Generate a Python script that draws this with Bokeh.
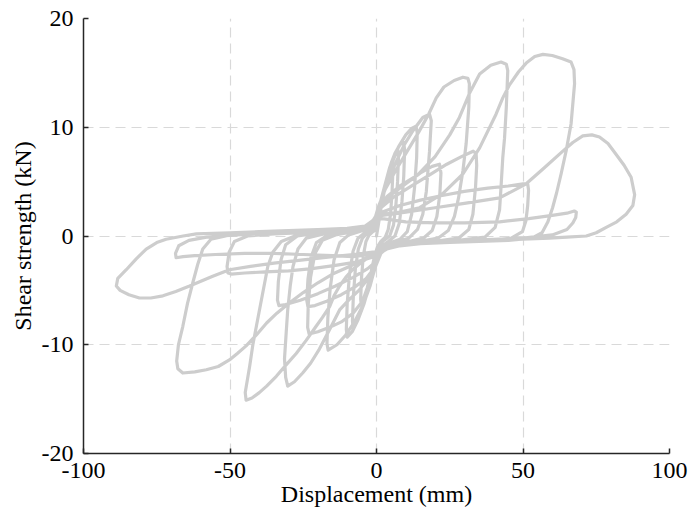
from bokeh.plotting import figure
from bokeh.models import Range1d, FixedTicker, ColumnDataSource
from bokeh.embed import file_html
from bokeh.resources import INLINE

# ---- data (displacement mm, shear kN), cycle by cycle ----
c1_x = [0, 0.5, 1.5, 2.8, 4.0, 5.0, 5.5, 5.6, 5.3, 4.8, 4.0, 3.0, 1.5, 0.3,
        -0.8, -2.0, -3.2, -4.5, -5.2, -5.4, -5.1, -4.5, -3.6, -2.5, -1.2, 0]
c1_y = [0, 0.8, 2.5, 4.3, 5.6, 6.4, 6.6, 6.0, 4.0, 2.0, 0.6, -0.1, -0.5, -1.0,
        -2.0, -3.5, -4.8, -5.8, -6.3, -5.8, -3.8, -1.8, -0.5, 0.1, 0.4, 0.6]

c2_x = [0.8, 2.0, 3.5, 5.0, 6.3, 7.3, 7.5, 7.2, 6.6, 5.8, 4.5, 2.5, 1.0, 0,
        -1.2, -2.6, -4.2, -6.0, -7.3, -8.0, -8.2, -7.9, -7.2, -6.2, -4.8, -3.0, -1.2]
c2_y = [1.6, 3.5, 5.3, 6.7, 7.6, 7.9, 7.2, 5.0, 2.8, 1.0, 0.0, -0.4, -0.8, -1.5,
        -2.8, -4.4, -6.0, -7.4, -8.2, -8.5, -7.8, -5.5, -3.0, -1.2, -0.2, 0.3, 0.5]

c3_x = [0, 1.2, 2.8, 4.5, 6.3, 8.0, 9.3, 9.6, 9.3, 8.7, 7.8, 6.3, 4.0, 2.0, 0.5,
        -0.8, -2.3, -4.2, -6.3, -8.3, -10.0, -10.3, -10.0, -9.2, -8.0, -6.3, -4.0, -1.8]
c3_y = [1.0, 2.6, 4.6, 6.3, 7.6, 8.4, 8.6, 7.9, 5.5, 3.2, 1.2, 0.0, -0.5, -0.9, -1.6,
        -2.8, -4.4, -6.2, -7.7, -8.8, -9.3, -8.6, -6.2, -3.5, -1.4, -0.2, 0.3, 0.6]

c4_x = [-0.3, 1.0, 2.8, 5.0, 7.5, 10.0, 12.0, 13.5, 13.9, 13.7, 13.0, 12.0, 10.5, 8.0, 5.0, 2.5, 0.8,
        -0.6, -2.2, -4.5, -7.5, -10.5, -13.5, -16.5, -16.9, -16.6, -15.8, -14.5, -12.5, -9.5, -6.0, -2.5]
c4_y = [1.2, 2.8, 4.6, 6.5, 8.2, 9.3, 9.9, 10.1, 9.5, 7.2, 4.5, 2.0, 0.4, -0.3, -0.6, -1.0, -1.8,
        -3.0, -4.6, -6.3, -7.9, -9.1, -10.0, -10.5, -9.9, -7.5, -4.8, -2.2, -0.6, 0.1, 0.4, 0.7]

c5_x = [-0.5, 1.2, 3.5, 6.5, 9.5, 12.5, 15.8, 18.1, 18.7, 18.1, 17.0, 15.8, 14.0, 11.0, 7.0, 3.5, 1.2,
        -0.3, -2.0, -4.5, -8.0, -12.0, -16.0, -20.0, -23.0, -23.5, -23.3, -22.5, -21.0, -18.5, -14.0, -8.0, -3.0]
c5_y = [1.5, 3.0, 4.8, 6.7, 8.4, 9.7, 10.9, 11.2, 10.6, 7.8, 4.1, 2.0, 0.6, -0.2, -0.5, -0.9, -1.7,
        -2.8, -4.3, -5.9, -7.1, -7.9, -8.4, -8.8, -9.0, -8.4, -6.3, -3.8, -1.6, -0.4, 0.1, 0.4, 0.8]

c5b_x = [-0.6, 1.5, 5.0, 10.0, 15.0, 19.0, 21.5, 22.0, 21.6, 20.6, 19.0, 16.0, 11.0, 6.0, 2.5, 0.5,
         -1.0, -3.5, -7.5, -12.0, -17.0, -21.0, -23.4, -23.8, -23.4, -22.4, -20.5, -16.5, -10.0, -4.0]
c5b_y = [1.4, 2.6, 3.8, 4.8, 5.8, 6.4, 6.6, 5.8, 3.8, 1.8, 0.5, -0.2, -0.5, -0.7, -1.1, -2.0,
         -3.0, -3.9, -4.7, -5.4, -6.0, -6.4, -6.5, -5.9, -4.0, -2.0, -0.6, 0.1, 0.4, 0.7]

c6_x = [-1.0, 0.8, 3.0, 6.5, 10.5, 14.5, 17.8, 20.4, 23.0, 26.5, 29.5, 31.2,
        31.7, 31.5, 30.6, 29.5, 28.0, 26.6, 24.5, 21.0, 15.0, 9.0, 4.5, 1.5,
        0, -2.5, -6.0, -9.5, -12.6, -16.0, -19.5, -22.5, -25.2, -28.0, -30.3,
        -31.0, -31.4, -30.8, -30.3, -29.4, -28.5, -26.8, -24.0, -18.0, -10.0, -4.0]
c6_y = [1.2, 2.8, 4.3, 6.0, 7.8, 9.6, 11.2, 12.7, 13.7, 14.3, 14.6, 14.5,
        14.0, 11.8, 8.5, 6.0, 3.5, 1.8, 0.5, -0.2, -0.5, -0.6, -0.9, -1.6,
        -2.6, -3.8, -5.0, -5.9, -6.8, -8.6, -10.4, -11.7, -12.6, -13.4, -13.8,
        -13.0, -11.3, -8.8, -6.8, -4.5, -2.8, -1.2, -0.2, 0.2, 0.4, 0.7]

c6b_x = [-1.0, 1.5, 6.0, 12.0, 18.0, 24.0, 29.0, 33.0, 34.0, 34.2, 33.8, 32.9, 31.5, 28.0, 20.0, 12.0, 5.5, 1.8,
         0, -3.0, -8.0, -14.0, -20.0, -26.0, -31.0, -33.3, -33.8, -33.5, -32.6, -31.0, -27.0, -19.0, -10.0, -4.0]
c6b_y = [1.5, 2.6, 3.6, 4.6, 5.6, 6.6, 7.3, 7.8, 7.6, 6.5, 4.5, 2.0, 0.6, -0.2, -0.5, -0.6, -0.8, -1.4,
         -2.3, -3.0, -3.8, -4.6, -5.3, -5.9, -6.3, -6.4, -5.9, -4.2, -2.2, -0.8, 0.0, 0.3, 0.5, 0.8]

c7_x = [-1.0, 0.8, 3.5, 8.0, 14.0, 20.0, 25.0, 28.3, 31.7, 35.2, 39.0, 42.5, 44.3,
        44.8, 44.3, 43.7, 43.1, 42.5, 42.0, 40.5, 37.0, 28.0, 18.0, 10.0, 3.0, 1.0,
        -2.4, -5.5, -8.2, -10.5, -12.6, -14.5, -16.0, -18.5, -20.6, -24.0, -27.4, -31.0, -34.2,
        -37.5, -40.0, -42.5, -44.5, -44.8, -43.3, -42.2, -41.0, -38.8, -37.1, -35.4, -32.5,
        -27.0, -18.0, -10.0, -4.0]
c7_y = [1.3, 2.6, 3.6, 4.6, 5.6, 7.3, 9.3, 10.9, 13.1, 14.9, 15.7, 16.0, 15.8,
        15.2, 11.8, 9.0, 7.2, 4.5, 2.4, 0.8, -0.1, -0.4, -0.6, -0.8, -0.9, -1.3,
        -1.9, -2.5, -3.1, -3.8, -4.6, -5.5, -6.5, -7.5, -8.3, -9.6, -10.8, -11.9, -12.9,
        -13.8, -14.4, -14.9, -15.1, -14.4, -12.0, -10.0, -8.3, -5.2, -2.8, -1.5, -0.5,
        0.1, 0.3, 0.5, 0.8]

c7b_x = [-1.0, 2.0, 8.0, 15.0, 22.0, 30.0, 38.0, 45.0, 50.0, 51.6,
         51.9, 51.6, 51.0, 49.8, 46.0, 38.0, 28.0, 18.0, 9.0, 3.5, 0.8,
         -2.0, -7.0, -14.0, -22.0, -30.0, -38.0, -45.0, -49.5, -50.7,
         -51.0, -50.3, -48.5, -44.0, -35.0, -25.0, -15.0, -7.0, -2.5]
c7b_y = [1.4, 2.2, 2.8, 3.3, 3.7, 4.1, 4.4, 4.6, 4.8, 4.8,
         4.2, 2.8, 1.4, 0.4, -0.2, -0.4, -0.5, -0.6, -0.8, -1.1, -1.6,
         -2.0, -2.4, -2.7, -3.0, -3.2, -3.3, -3.4, -3.5, -3.4,
         -2.8, -1.5, -0.5, 0.0, 0.2, 0.3, 0.4, 0.6, 0.9]

c8_x = [-0.5, 2.0, 8.0, 14.7, 22.6, 29.5, 35.2, 40.8, 43.1, 45.4, 48.5, 51.1, 54.0, 56.8, 60.0, 63.5, 66.4,
        67.4, 67.6, 66.4, 64.7, 63.0, 61.5, 60.1, 58.5, 56.5, 53.0, 45.0, 35.0, 25.0, 15.0, 8.0, 3.5, 1.0,
        -2.5, -6.0, -10.0, -15.0, -20.0, -25.0, -30.0, -34.0, -37.5, -41.0, -44.5, -47.5, -50.2, -54.0,
        -58.1, -62.0, -66.1, -67.8, -68.2, -67.6, -66.1, -64.5, -62.7, -61.0, -59.3, -56.5, -50.0, -40.0,
        -30.0, -20.0, -10.0, -4.0]
c8_y = [1.5, 2.0, 2.2, 2.6, 3.9, 5.7, 8.1, 11.2, 12.7, 13.9, 15.1, 15.9, 16.5, 16.7, 16.6, 16.3, 16.0,
        15.3, 14.0, 10.3, 7.8, 5.7, 4.0, 2.6, 1.3, 0.3, -0.2, -0.4, -0.5, -0.6, -0.7, -0.9, -1.2, -1.6,
        -1.9, -2.4, -2.9, -3.5, -4.3, -5.2, -6.2, -7.1, -8.0, -9.1, -10.1, -10.8, -11.4, -12.0,
        -12.3, -12.5, -12.6, -12.2, -11.5, -10.0, -8.3, -6.2, -4.3, -2.6, -1.2, -0.3, 0.1, 0.3,
        0.4, 0.5, 0.6, 0.9]

c8b_x = [-0.8, 2.0, 10.0, 20.0, 30.0, 42.0, 52.0, 60.0, 65.0, 67.5, 68.2,
         68.0, 67.0, 65.0, 60.0, 50.0, 40.0, 30.0, 20.0, 10.0, 4.0, 1.0,
         -2.0, -8.0, -15.0, -25.0, -35.0, -45.0, -55.0, -62.0, -66.0, -68.4,
         -68.6, -67.5, -64.0, -58.0, -48.0, -38.0, -28.0, -18.0, -9.0, -3.5]
c8b_y = [1.5, 1.6, 1.3, 1.2, 1.2, 1.3, 1.6, 1.9, 2.1, 2.3, 2.2,
         1.7, 1.2, 0.6, 0.1, -0.2, -0.3, -0.4, -0.5, -0.7, -1.0, -1.5,
         -1.7, -1.9, -1.8, -1.7, -1.6, -1.6, -1.7, -1.8, -1.9, -2.0,
         -1.6, -0.9, -0.4, -0.1, 0.1, 0.2, 0.3, 0.4, 0.6, 0.9]

c9_x = [-0.5, 2.0, 10.0, 20.0, 30.0, 42.0, 51.1, 57.0, 63.6, 67.0, 70.4, 73.5, 76.1, 79.0, 81.8,
        84.5, 86.9, 88.1, 87.5, 85.2, 82.0, 78.4, 75.0, 71.6, 65.0, 59.0, 50.0, 40.0, 30.0, 20.0,
        10.0, 4.0, 1.0,
        -2.0, -8.0, -15.0, -25.0, -35.0, -43.0, -50.2, -55.9, -63.8, -68.5, -72.9, -77.0, -80.9,
        -84.5, -87.5, -88.8, -88.3, -85.4, -82.0, -78.6, -75.0, -71.8, -66.0, -61.5, -50.0, -40.0,
        -30.0, -20.0, -10.0, -4.0, -1.0]
c9_y = [1.5, 1.9, 2.2, 2.6, 3.0, 3.5, 4.8, 6.2, 7.8, 8.6, 9.2, 9.3, 9.1, 8.5, 7.5,
        6.5, 5.4, 3.8, 2.8, 2.0, 1.3, 0.8, 0.3, 0.0, -0.1, -0.2, -0.3, -0.4, -0.5, -0.6,
        -0.7, -1.0, -1.4,
        -1.5, -1.7, -1.9, -2.2, -2.5, -2.8, -3.1, -3.7, -4.6, -5.1, -5.5, -5.7, -5.7,
        -5.4, -5.0, -4.6, -3.9, -3.1, -2.1, -1.2, -0.6, -0.3, 0.0, 0.2, 0.3, 0.4,
        0.5, 0.6, 0.7, 0.9, 1.2]

x_ticks = [-100, -50, 0, 50, 100]
y_ticks = [-20, -10, 0, 10, 20]
x_tick_labels = ["-100", "-50", "0", "50", "100"]
y_tick_labels = ["-20", "-10", "0", "10", "20"]

disp = (c1_x + c2_x + c3_x + c4_x + c5_x + c5b_x + c6_x + c6b_x + c7_x + c7b_x
        + c8_x + c8b_x + c9_x)
force = (c1_y + c2_y + c3_y + c4_y + c5_y + c5b_y + c6_y + c6b_y + c7_y + c7b_y
         + c8_y + c8b_y + c9_y)

FONT = "Liberation Serif"

p = figure(width=690, height=518, output_backend="svg", toolbar_location=None,
           x_range=Range1d(-100, 100), y_range=Range1d(-20, 20),
           min_border_left=83, min_border_right=21, min_border_top=18, min_border_bottom=65)
p.outline_line_color = None
p.background_fill_color = "white"
p.border_fill_color = "white"

src = ColumnDataSource(dict(x=disp, y=force))
p.line("x", "y", source=src, line_color="#cdcdcd", line_width=3.2,
       line_join="round", line_cap="round")

for ax, ticks, labels in ((p.xaxis[0], x_ticks, x_tick_labels), (p.yaxis[0], y_ticks, y_tick_labels)):
    ax.ticker = FixedTicker(ticks=ticks)
    ax.major_label_overrides = {t: l for t, l in zip(ticks, labels)}
    ax.axis_line_color = "#262626"
    ax.axis_line_width = 1.5
    ax.major_tick_line_color = "#262626"
    ax.major_tick_line_width = 1.5
    ax.major_tick_in = 5
    ax.major_tick_out = 0
    ax.minor_tick_line_color = None
    ax.major_label_text_font = FONT
    ax.major_label_text_font_size = "24px"
    ax.major_label_text_color = "#000000"
    ax.axis_label_text_font = FONT
    ax.axis_label_text_font_size = "24px"
    ax.axis_label_text_font_style = "normal"
    ax.axis_label_text_color = "#000000"

p.xaxis.axis_label = "Displacement (mm)"
p.yaxis.axis_label = "Shear strength (kN)"
p.xaxis.major_label_standoff = 9
p.yaxis.major_label_standoff = 10
p.xaxis.axis_label_standoff = 0
p.yaxis.axis_label_standoff = 3

p.xgrid.ticker = FixedTicker(ticks=x_ticks)
p.ygrid.ticker = FixedTicker(ticks=y_ticks)
for g in (p.xgrid[0], p.ygrid[0]):
    g.grid_line_color = "#d9d9d9"
    g.grid_line_width = 1.2
    g.grid_line_dash = "10 6"

open("out.html", "w").write(file_html(p, INLINE))
